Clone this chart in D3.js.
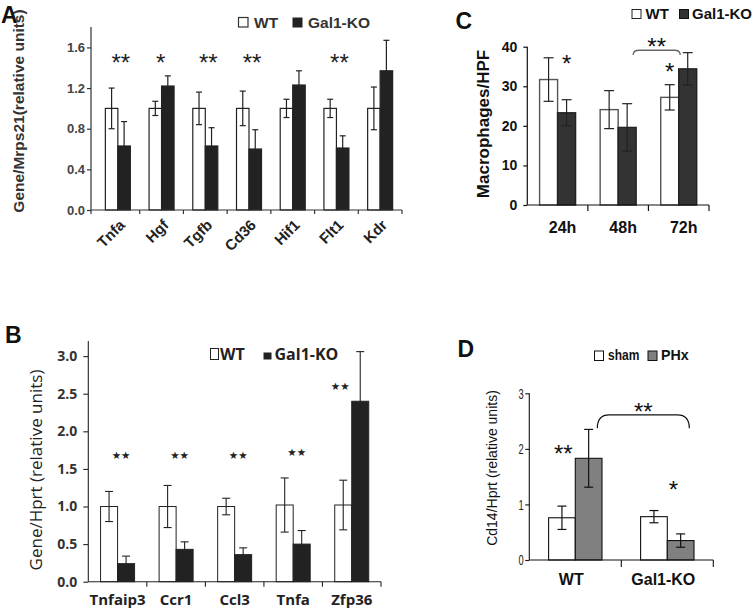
<!DOCTYPE html>
<html>
<head>
<meta charset="utf-8">
<script src="https://cdn.jsdelivr.net/npm/d3@7/dist/d3.min.js"></script>
<style>
  html, body { margin: 0; padding: 0; background: #fff; }
  svg { display: block; }
</style>
</head>
<body>
<script>
// ---------------- DATA ----------------
// Panel A
const catsA = ["Tnfa", "Hgf", "Tgfb", "Cd36", "Hif1", "Flt1", "Kdr"];
const wtA = [1.0, 1.0, 1.0, 1.0, 1.0, 1.0, 1.0];
const wtErrA = [0.20, 0.07, 0.16, 0.17, 0.09, 0.09, 0.21];
const koA = [0.63, 1.22, 0.63, 0.60, 1.23, 0.61, 1.37];
const koErrA = [0.24, 0.10, 0.18, 0.19, 0.14, 0.12, 0.30];
const sigA = ["**", "*", "**", "**", "", "**", ""];
const sigYA = 1.5;
const ticksA = [0, 0.4, 0.8, 1.2, 1.6];

// Panel B
const catsB = ["Tnfaip3", "Ccr1", "Ccl3", "Tnfa", "Zfp36"];
const wtB = [1.0, 1.0, 1.0, 1.02, 1.02];
const wtErrB = [0.20, 0.28, 0.11, 0.36, 0.33];
const koB = [0.24, 0.43, 0.36, 0.50, 2.40];
const koErrB = [0.10, 0.10, 0.09, 0.18, 0.66];
const sigB = ["★★", "★★", "★★", "★★", "★★"];
const sigYB = [1.69, 1.69, 1.69, 1.73, 2.60];
const sigOverB = ["pair", "pair", "pair", "pair", "wt"];
const ticksB = [0, 0.5, 1.0, 1.5, 2.0, 2.5, 3.0];

// Panel C
const catsC = ["24h", "48h", "72h"];
const wtC = [31.7, 24.1, 27.2];
const wtErrC = [5.5, 4.8, 3.2];
const koC = [23.3, 19.6, 34.4];
const koErrC = [3.3, 6.0, 4.1];
const ticksC = [0, 10, 20, 30, 40];

// Panel D
const catsD = ["WT", "Gal1-KO"];
const shamD = [0.76, 0.78];
const shamErrD = [0.21, 0.11];
const phxD = [1.83, 0.35];
const phxErrD = [0.52, 0.12];
const ticksD = [0, 1, 2, 3];

// ---------------- SETUP ----------------
const F_ARIAL = "'Liberation Sans', Arial, sans-serif";
const F_SEGOE = "'Open Sans', 'Liberation Sans', sans-serif";

const svg = d3.select("body").append("svg")
  .attr("width", 752).attr("height", 610)
  .style("background", "#fff");

function txt(g, x, y, s, o) {
  const t = g.append("text").attr("x", x).attr("y", y).text(s)
    .attr("font-family", o.ff || F_ARIAL)
    .attr("font-size", o.fs || 12)
    .attr("font-weight", o.fw || "normal")
    .attr("fill", o.fill || "#222")
    .attr("text-anchor", o.anchor || "start");
  let tr = "";
  if (o.rot !== undefined) tr += `rotate(${o.rot},${x},${y}) `;
  if (o.sx !== undefined) tr += `translate(${x},${y}) scale(${o.sx},1) translate(${-x},${-y})`;
  if (tr) t.attr("transform", tr);
  return t;
}

function pairBars(g, cfg) {
  const { cats, a, ae, b, be, x, y, bw, fillA, fillB, strokeA, strokeB, sw, cap, errColor, errW } = cfg;
  const data = cats.map((c, i) => ({ c, i, a: a[i], ae: ae[i], b: b[i], be: be[i] }));
  const cx = d => x(d.c) + x.bandwidth() / 2;
  const series = [
    { v: "a", e: "ae", off: -bw, fill: fillA, stroke: strokeA },
    { v: "b", e: "be", off: 0, fill: fillB, stroke: strokeB }
  ];
  series.forEach(s => {
    g.selectAll(null).data(data).join("rect")
      .attr("x", d => cx(d) + s.off)
      .attr("y", d => y(d[s.v]))
      .attr("width", bw)
      .attr("height", d => y(0) - y(d[s.v]))
      .attr("fill", s.fill)
      .attr("stroke", s.stroke)
      .attr("stroke-width", sw);
  });
  series.forEach(s => {
    const bx = d => cx(d) + s.off + bw / 2;
    g.selectAll(null).data(data).join("line")
      .attr("x1", bx).attr("x2", bx)
      .attr("y1", d => y(d[s.v] + d[s.e])).attr("y2", d => y(d[s.v] - d[s.e]))
      .attr("stroke", errColor).attr("stroke-width", errW);
    [1, -1].forEach(sg => {
      g.selectAll(null).data(data).join("line")
        .attr("x1", d => bx(d) - cap / 2).attr("x2", d => bx(d) + cap / 2)
        .attr("y1", d => y(d[s.v] + sg * d[s.e])).attr("y2", d => y(d[s.v] + sg * d[s.e]))
        .attr("stroke", errColor).attr("stroke-width", errW);
    });
  });
}

function yAxis(g, y, x0, ticks, fmt, o) {
  const ax = d3.axisLeft(y).tickValues(ticks).tickFormat(fmt)
    .tickSize(o.tick).tickSizeOuter(0).tickPadding(o.pad);
  const a = g.append("g").attr("transform", `translate(${x0},0)`).call(ax);
  a.select(".domain").remove();
  a.append("line").attr("x1", 0).attr("x2", 0)
    .attr("y1", y.range()[0] + (o.below || 0)).attr("y2", y.range()[1])
    .attr("stroke", o.color).attr("stroke-width", o.lw);
  a.selectAll(".tick line").attr("stroke", o.color).attr("stroke-width", o.lw);
  const tt = a.selectAll(".tick text").attr("font-family", o.ff).attr("font-size", o.fs)
    .attr("font-weight", o.fw).attr("fill", o.tcolor || "#222");
  if (o.sx) tt.attr("transform", `scale(${o.sx},1)`);
  return a;
}

function xAxisBand(g, x, y0, x0, o) {
  g.append("line").attr("x1", x0).attr("x2", x.range()[1])
    .attr("y1", y0).attr("y2", y0).attr("stroke", o.color).attr("stroke-width", o.lw);
  const bounds = x.domain().map(d => x(d) + x.bandwidth());
  g.selectAll(null).data(bounds).join("line")
    .attr("x1", d => d).attr("x2", d => d)
    .attr("y1", y0).attr("y2", y0 + o.tick)
    .attr("stroke", o.color).attr("stroke-width", o.lw);
}

// ---------------- PANEL A ----------------
{
  const g = svg.append("g");
  const x = d3.scaleBand().domain(catsA).range([96, 402]);
  const y = d3.scaleLinear().domain([0, 1.8]).range([210, 27.1]);
  pairBars(g, { cats: catsA, a: wtA, ae: wtErrA, b: koA, be: koErrA, x, y, bw: 12.5,
    fillA: "#fff", fillB: "#222", strokeA: "#222", strokeB: "#222", sw: 1.2, cap: 6, errColor: "#222", errW: 1.2 });
  yAxis(g, y, 91, ticksA, d3.format(".1f"), { tick: 4, pad: 2, color: "#333", lw: 1.2, ff: F_ARIAL, fs: 13, fw: "bold", tcolor: "#444", below: 4 });
  xAxisBand(g, x, 210, 91, { color: "#333", lw: 1.2, tick: 4 });
  catsA.forEach(c => {
    txt(g, x(c) + x.bandwidth() / 2 + 8, 226, c, { fs: 15, fw: "bold", anchor: "end", rot: -45, fill: "#222" });
  });
  sigA.forEach((s, i) => {
    if (!s) return;
    const c = catsA[i];
    txt(g, x(c) + x.bandwidth() / 2 + (s.length > 1 ? 3 : -1), y(sigYA) + 13.5, s, { fs: 24, anchor: "middle", fill: "#222" });
  });
  txt(g, 24, 111, "Gene/Mrps21(relative units)", { fs: 15.5, fw: "bold", anchor: "middle", rot: -90, fill: "#333" });
  // legend
  g.append("rect").attr("x", 238.5).attr("y", 17.5).attr("width", 9.5).attr("height", 9.5).attr("fill", "#fff").attr("stroke", "#333").attr("stroke-width", 1.2);
  txt(g, 254, 27.5, "WT", { fs: 15.5, fw: "bold", fill: "#333" });
  g.append("rect").attr("x", 292.5).attr("y", 17.5).attr("width", 10).attr("height", 10).attr("fill", "#222");
  txt(g, 308, 27.5, "Gal1-KO", { fs: 15.5, fw: "bold", fill: "#333" });
  txt(g, 1, 23, "A", { fs: 23, fw: "bold", fill: "#111" });
}

// ---------------- PANEL B ----------------
{
  const g = svg.append("g");
  const x = d3.scaleBand().domain(catsB).range([88.3, 381]);
  const y = d3.scaleLinear().domain([0, 3.2]).range([581.7, 341.1]);
  pairBars(g, { cats: catsB, a: wtB, ae: wtErrB, b: koB, be: koErrB, x, y, bw: 17,
    fillA: "#fff", fillB: "#222", strokeA: "#222", strokeB: "#222", sw: 1, cap: 8, errColor: "#222", errW: 1.1 });
  yAxis(g, y, 88.3, ticksB, d3.format(".1f"), { tick: 5, pad: 6, color: "#222", lw: 1.1, ff: F_SEGOE, fs: 14, fw: "bold", tcolor: "#333" });
  xAxisBand(g, x, 581.7, 88.3, { color: "#222", lw: 1.1, tick: 5 });
  catsB.forEach(c => {
    txt(g, x(c) + x.bandwidth() / 2, 605, c, { ff: F_SEGOE, fs: 15, fw: "bold", anchor: "middle", fill: "#222" });
  });
  sigB.forEach((s, i) => {
    const c = catsB[i];
    const xc = sigOverB[i] === "wt" ? x(c) + x.bandwidth() / 2 - 17 / 2 - 3 : x(c) + x.bandwidth() / 2 + 3.5;
    txt(g, xc, y(sigYB[i]) + 4, s, { ff: "'DejaVu Sans', sans-serif", fs: 10.5, anchor: "middle", fill: "#222" });
  });
  txt(g, 42, 470, "Gene/Hprt (relative units)", { ff: F_SEGOE, fs: 17, anchor: "middle", rot: -90, fill: "#222" });
  g.append("rect").attr("x", 210.5).attr("y", 348.5).attr("width", 8).attr("height", 11).attr("fill", "#fff").attr("stroke", "#222").attr("stroke-width", 1);
  txt(g, 220, 359.5, "WT", { ff: F_SEGOE, fs: 16, fw: "bold", fill: "#222" });
  g.append("rect").attr("x", 263.5).attr("y", 352.5).attr("width", 8).attr("height", 7).attr("fill", "#222");
  txt(g, 274.5, 359.5, "Gal1-KO", { ff: F_SEGOE, fs: 16, fw: "bold", fill: "#222" });
  txt(g, 5, 343, "B", { fs: 23, fw: "bold", fill: "#111" });
}

// ---------------- PANEL C ----------------
{
  const g = svg.append("g");
  const x = d3.scaleBand().domain(catsC).range([527.3, 709]);
  const y = d3.scaleLinear().domain([0, 40]).range([205, 46.7]);
  pairBars(g, { cats: catsC, a: wtC, ae: wtErrC, b: koC, be: koErrC, x, y, bw: 18,
    fillA: "#fff", fillB: "#333", strokeA: "#555", strokeB: "#222", sw: 1.4, cap: 10, errColor: "#222", errW: 1.2 });
  yAxis(g, y, 527.3, ticksC, d3.format("d"), { tick: 4, pad: 6, color: "#111", lw: 1.2, ff: F_ARIAL, fs: 14, fw: "bold", tcolor: "#111" });
  xAxisBand(g, x, 205, 527.3, { color: "#111", lw: 1.2, tick: 6 });
  catsC.forEach(c => {
    txt(g, x(c) + x.bandwidth() / 2 + 5, 233, c, { fs: 16, fw: "bold", anchor: "middle", fill: "#111" });
  });
  const cx = c => x(c) + x.bandwidth() / 2;
  txt(g, cx("24h") + 9, y(36.9) + 13.5, "*", { fs: 24, anchor: "middle", fill: "#111" });
  txt(g, cx("72h") - 9, y(34.9) + 13.5, "*", { fs: 24, anchor: "middle", fill: "#111" });
  const bx1 = cx("48h") + 15, bx2 = cx("72h") + 1.5;
  const by = y(39.1), be = y(37.9);
  g.append("path")
    .attr("d", `M${bx1},${be} Q${bx1},${by} ${bx1 + 6},${by} L${bx2 - 6},${by} Q${bx2},${by} ${bx2},${be}`)
    .attr("fill", "none").attr("stroke", "#666").attr("stroke-width", 1.3);
  txt(g, (bx1 + bx2) / 2, y(41.2) + 13.5, "**", { fs: 24, anchor: "middle", fill: "#111" });
  txt(g, 489, 124, "Macrophages/HPF", { fs: 17, fw: "bold", anchor: "middle", rot: -90, fill: "#111" });
  g.append("rect").attr("x", 632).attr("y", 9.5).attr("width", 9).attr("height", 9).attr("fill", "#fff").attr("stroke", "#222").attr("stroke-width", 1);
  txt(g, 645.5, 18.5, "WT", { fs: 15, fw: "bold", fill: "#111" });
  g.append("rect").attr("x", 679.5).attr("y", 9.5).attr("width", 9).attr("height", 9).attr("fill", "#333").attr("stroke", "#111").attr("stroke-width", 1);
  txt(g, 692, 18.5, "Gal1-KO", { fs: 15, fw: "bold", fill: "#111" });
  txt(g, 455.5, 28.5, "C", { fs: 23, fw: "bold", fill: "#111" });
}

// ---------------- PANEL D ----------------
{
  const g = svg.append("g");
  const x = d3.scaleBand().domain(catsD).range([529.3, 713.3]);
  const y = d3.scaleLinear().domain([0, 3]).range([560, 393.3]);
  pairBars(g, { cats: catsD, a: shamD, ae: shamErrD, b: phxD, be: phxErrD, x, y, bw: 26.7,
    fillA: "#fff", fillB: "#808080", strokeA: "#111", strokeB: "#111", sw: 1.1, cap: 9, errColor: "#111", errW: 1.2 });
  yAxis(g, y, 529.3, ticksD, d3.format("d"), { tick: 4, pad: 5, color: "#111", lw: 1.1, ff: F_ARIAL, fs: 15, fw: "normal", tcolor: "#222", sx: 0.62 });
  xAxisBand(g, x, 560, 529.3, { color: "#111", lw: 1.1, tick: 7 });
  catsD.forEach(c => {
    txt(g, x(c) + x.bandwidth() / 2 - 4, 585, c, { fs: 16, fw: "bold", anchor: "middle", fill: "#111" });
  });
  const cx = c => x(c) + x.bandwidth() / 2;
  txt(g, cx("WT") - 12, y(2.0) + 13.5, "**", { fs: 24, anchor: "middle", fill: "#111" });
  txt(g, cx("Gal1-KO") + 6, y(1.35) + 13.5, "*", { fs: 24, anchor: "middle", fill: "#111" });
  const bx1 = cx("WT") + 22, bx2 = cx("Gal1-KO") + 22;
  const by = y(2.61), be = y(2.37);
  g.append("path")
    .attr("d", `M${bx1},${be} Q${bx1},${by} ${bx1 + 12},${by} L${bx2 - 12},${by} Q${bx2},${by} ${bx2},${be}`)
    .attr("fill", "none").attr("stroke", "#111").attr("stroke-width", 1.2);
  txt(g, (bx1 + bx2) / 2, y(2.76) + 13.5, "**", { fs: 24, anchor: "middle", fill: "#111" });
  txt(g, 497, 468, "Cd14/Hprt (relative units)", { fs: 14, anchor: "middle", rot: -90, fill: "#111" });
  g.append("rect").attr("x", 594.5).attr("y", 351).attr("width", 9).attr("height", 9.5).attr("fill", "#fff").attr("stroke", "#111").attr("stroke-width", 1);
  txt(g, 608, 360.5, "sham", { fs: 15, fw: "bold", fill: "#111", sx: 0.8 });
  g.append("rect").attr("x", 648).attr("y", 351).attr("width", 9).attr("height", 9.5).attr("fill", "#808080").attr("stroke", "#111").attr("stroke-width", 1);
  txt(g, 661, 360.5, "PHx", { fs: 15, fw: "bold", fill: "#111", sx: 0.95 });
  txt(g, 457.5, 357, "D", { fs: 23, fw: "bold", fill: "#111" });
}
</script>
</body>
</html>
